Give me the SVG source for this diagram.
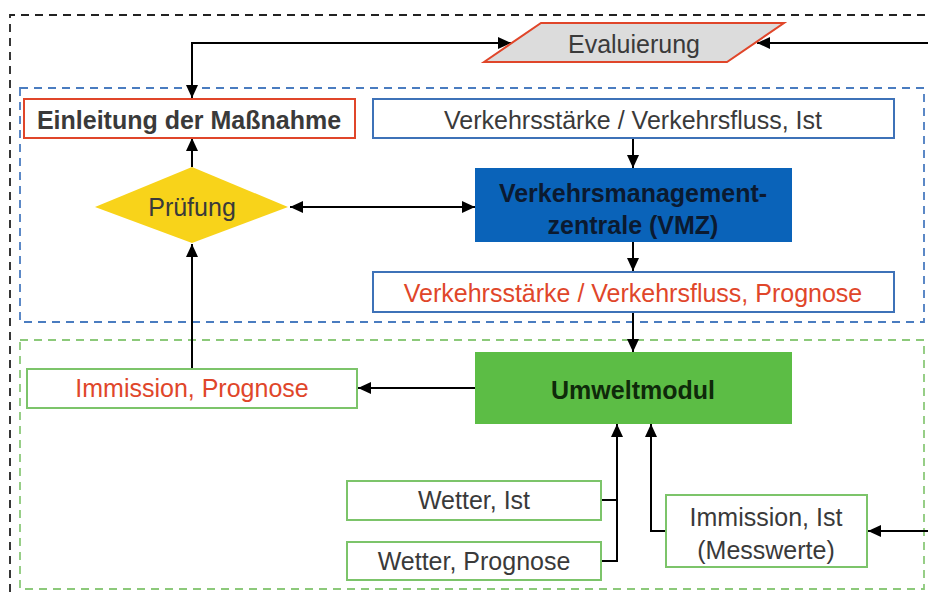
<svg xmlns="http://www.w3.org/2000/svg" width="928" height="592" viewBox="0 0 928 592">
<defs>
<marker id="ah" viewBox="0 0 13 12" refX="13" refY="6" markerWidth="13" markerHeight="12" markerUnits="userSpaceOnUse" orient="auto-start-reverse">
<path d="M0,0 L13,6 L0,12 z" fill="#000"/>
</marker>
<style>
.t{font-family:"Liberation Sans",Arial,sans-serif;font-size:25px;fill:#3a3a3a;text-anchor:middle}
.r{fill:#e0462a}
.b{font-weight:bold}
.box{fill:#fff;stroke-width:2}
.bl{stroke:#3e72b8}
.gr{stroke:#7cc46a}
.c{fill:none;stroke:#000;stroke-width:2;marker-end:url(#ah)}
.zone{fill:none;stroke-width:1.8;stroke-dasharray:8 6}
</style>
</defs>
<rect width="928" height="592" fill="#fff"/>
<g id="zones">
<path class="zone" d="M10,592 V15 H928" stroke="#222"/>
<rect class="zone" x="20" y="88" width="904" height="234" stroke="#4a7cc0"/>
<rect class="zone" x="20" y="340" width="904" height="249" stroke="#8cc97a"/>
</g>
<g id="connectors">
<path class="c" d="M192,98 V43 H511" style="marker-start:url(#ah)"/>
<path class="c" d="M928,43 H757"/>
<path class="c" d="M192,167 V138"/>
<path class="c" d="M290,207 H475" style="marker-start:url(#ah)"/>
<path class="c" d="M633,138 V168"/>
<path class="c" d="M633,242 V271"/>
<path class="c" d="M633,312 V352"/>
<path class="c" d="M475,388 H358"/>
<path class="c" d="M192,368 V244"/>
<path class="c" d="M601,500 H617 V424"/>
<path fill="none" stroke="#000" stroke-width="2" d="M601,561 H617 V500"/>
<path class="c" d="M666,531 H651 V424"/>
<path class="c" d="M928,531 H868"/>
</g>
<g id="evaluierung">
<polygon points="484,62 541,23 784,23 727,62" fill="#dcdcdc" stroke="#e0462a" stroke-width="2"/>
<text class="t" x="634" y="53">Evaluierung</text>
</g>
<g id="einleitung">
<rect class="box" x="24" y="99" width="331" height="39" stroke="#e0462a"/>
<text class="t b" x="189" y="129">Einleitung der Maßnahme</text>
</g>
<g id="vist">
<rect class="box bl" x="373" y="99" width="521" height="39"/>
<text class="t" x="633" y="129">Verkehrsstärke / Verkehrsfluss, Ist</text>
</g>
<g id="pruefung">
<polygon points="95,207 192,167 288,207 192,243" fill="#f8d31a"/>
<text class="t" x="192" y="216">Prüfung</text>
</g>
<g id="vmz">
<rect x="475" y="168" width="317" height="74" fill="#0a63b9"/>
<text class="t b" x="633" y="202" style="fill:#0b1a30">Verkehrsmanagement-</text>
<text class="t b" x="633" y="234" style="fill:#0b1a30">zentrale (VMZ)</text>
</g>
<g id="vprognose">
<rect class="box bl" x="373" y="272" width="521" height="40"/>
<text class="t r" x="633" y="302">Verkehrsstärke / Verkehrsfluss, Prognose</text>
</g>
<g id="umweltmodul">
<rect x="475" y="352" width="317" height="72" fill="#5cbd45"/>
<text class="t b" x="633" y="399" style="fill:#0f2a0a">Umweltmodul</text>
</g>
<g id="iprognose">
<rect class="box gr" x="27" y="369" width="330" height="39"/>
<text class="t r" x="192" y="397">Immission, Prognose</text>
</g>
<g id="wist">
<rect class="box gr" x="347" y="481" width="254" height="39"/>
<text class="t" x="474" y="509">Wetter, Ist</text>
</g>
<g id="wprognose">
<rect class="box gr" x="347" y="542" width="254" height="38"/>
<text class="t" x="474" y="570">Wetter, Prognose</text>
</g>
<g id="iist">
<rect class="box gr" x="666" y="495" width="201" height="72"/>
<text class="t" x="766" y="526">Immission, Ist</text>
<text class="t" x="766" y="559">(Messwerte)</text>
</g>
</svg>
